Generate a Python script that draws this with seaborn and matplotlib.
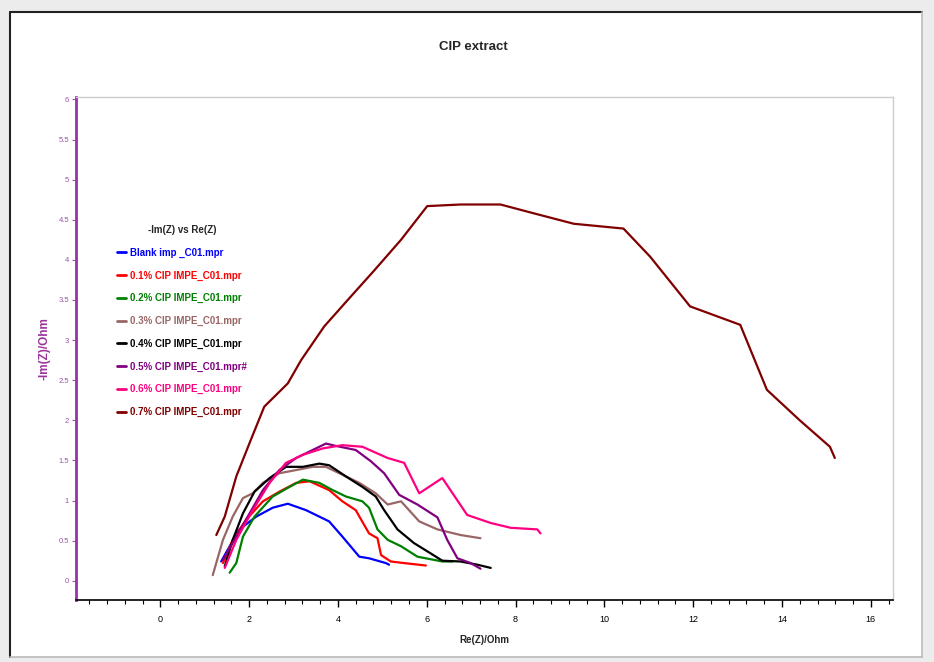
import numpy as np
import pandas as pd
import seaborn as sns
import matplotlib.pyplot as plt
from matplotlib.ticker import MultipleLocator
from matplotlib.lines import Line2D
from matplotlib.patches import Rectangle

# series (Re(Z), -Im(Z)) in Ohm
blank_x = [1.37, 1.48, 1.78, 2.16, 2.53, 2.87, 3.28, 3.80, 4.10, 4.48, 4.70, 5.08, 5.15]
blank_y = [0.24, 0.35, 0.64, 0.80, 0.91, 0.96, 0.88, 0.74, 0.55, 0.30, 0.28, 0.22, 0.20]

c01_x = [1.41, 1.63, 1.93, 2.31, 2.68, 3.06, 3.36, 3.80, 4.10, 4.40, 4.70, 4.89, 4.97, 5.19, 5.49, 5.98]
c01_y = [0.22, 0.51, 0.76, 0.99, 1.11, 1.22, 1.24, 1.13, 0.99, 0.88, 0.59, 0.53, 0.32, 0.24, 0.22, 0.19]

c02_x = [1.56, 1.71, 1.86, 2.12, 2.53, 2.91, 3.21, 3.58, 3.88, 4.18, 4.55, 4.70, 4.89, 5.12, 5.42, 5.79, 6.35, 6.58]
c02_y = [0.10, 0.22, 0.55, 0.80, 1.05, 1.17, 1.26, 1.22, 1.13, 1.05, 0.99, 0.91, 0.64, 0.51, 0.43, 0.30, 0.24, 0.24]

c03_x = [1.18, 1.41, 1.63, 1.86, 2.08, 2.31, 2.68, 3.06, 3.43, 3.73, 4.03, 4.48, 4.85, 5.12, 5.42, 5.83, 6.24, 6.76, 7.21]
c03_y = [0.07, 0.51, 0.80, 1.03, 1.09, 1.22, 1.34, 1.38, 1.42, 1.42, 1.34, 1.22, 1.09, 0.95, 0.99, 0.74, 0.64, 0.57, 0.53]

c04_x = [1.45, 1.63, 1.86, 2.12, 2.46, 2.83, 3.21, 3.58, 3.80, 4.18, 4.55, 4.85, 5.04, 5.34, 5.71, 6.09, 6.35, 6.76, 7.14, 7.44]
c04_y = [0.18, 0.51, 0.84, 1.11, 1.28, 1.42, 1.42, 1.46, 1.44, 1.30, 1.17, 1.05, 0.88, 0.64, 0.47, 0.34, 0.25, 0.24, 0.20, 0.16]

c05_x = [1.41, 1.71, 2.01, 2.31, 2.68, 3.06, 3.43, 3.73, 3.96, 4.40, 4.74, 5.04, 5.38, 5.79, 6.24, 6.46, 6.69, 6.99, 7.21]
c05_y = [0.26, 0.55, 0.84, 1.13, 1.38, 1.53, 1.63, 1.71, 1.68, 1.63, 1.49, 1.34, 1.07, 0.95, 0.79, 0.51, 0.28, 0.22, 0.15]

c06_x = [1.45, 1.71, 2.08, 2.46, 2.83, 3.21, 3.66, 4.10, 4.55, 5.12, 5.49, 5.83, 6.35, 6.91, 7.44, 7.89, 8.49, 8.56]
c06_y = [0.16, 0.51, 0.88, 1.22, 1.47, 1.57, 1.65, 1.69, 1.67, 1.53, 1.47, 1.09, 1.28, 0.82, 0.72, 0.66, 0.64, 0.59]

c07_x = [1.26, 1.45, 1.71, 2.04, 2.34, 2.87, 3.17, 3.69, 4.22, 4.82, 5.42, 6.01, 6.76, 7.66,
         8.41, 9.31, 10.43, 11.03, 11.93, 13.06, 13.66, 14.40, 15.08, 15.19]
c07_y = [0.57, 0.80, 1.30, 1.76, 2.17, 2.46, 2.75, 3.17, 3.50, 3.87, 4.25, 4.67, 4.69, 4.69,
         4.58, 4.45, 4.39, 4.04, 3.42, 3.19, 2.38, 2.00, 1.67, 1.53]

labels = ["Blank imp _C01.mpr", "0.1% CIP IMPE_C01.mpr", "0.2% CIP IMPE_C01.mpr",
          "0.3% CIP IMPE_C01.mpr", "0.4% CIP IMPE_C01.mpr", "0.5% CIP IMPE_C01.mpr#",
          "0.6% CIP IMPE_C01.mpr", "0.7% CIP IMPE_C01.mpr"]
colors = ["#0000ff", "#ff0000", "#008000", "#996666", "#000000", "#800080", "#ff0080", "#800000"]

xs = [blank_x, c01_x, c02_x, c03_x, c04_x, c05_x, c06_x, c07_x]
ys = [blank_y, c01_y, c02_y, c03_y, c04_y, c05_y, c06_y, c07_y]

frames = []
for lab, x, y in zip(labels, xs, ys):
    frames.append(pd.DataFrame({"re": x, "im": y, "file": lab}))
df = pd.concat(frames, ignore_index=True)

sns.set_style("white")
plt.rcParams['font.family'] = ['Liberation Sans Narrow', 'Liberation Sans', 'DejaVu Sans']

fig = plt.figure(figsize=(9.34, 6.62), dpi=100)
fig.patch.set_facecolor("#ececec")

# window frame around the plot
fig.patches.append(Rectangle((10 / 934, 1 - 657 / 662), 912 / 934, 645 / 662,
                             transform=fig.transFigure, facecolor="white", edgecolor="none", zorder=-5))
fig.lines.append(Line2D([10 / 934, 10 / 934], [1 - 657 / 662, 1 - 12 / 662], transform=fig.transFigure,
                        color="#222222", lw=1.5, zorder=-4))
fig.lines.append(Line2D([10 / 934, 922 / 934], [1 - 12 / 662, 1 - 12 / 662], transform=fig.transFigure,
                        color="#222222", lw=1.5, zorder=-4))
fig.lines.append(Line2D([922 / 934, 922 / 934], [1 - 657 / 662, 1 - 12 / 662], transform=fig.transFigure,
                        color="#bbbbbb", lw=1.2, zorder=-4))
fig.lines.append(Line2D([10 / 934, 922 / 934], [1 - 657 / 662, 1 - 657 / 662], transform=fig.transFigure,
                        color="#bbbbbb", lw=1.2, zorder=-4))

ax = fig.add_axes([76 / 934, 1 - 600 / 662, 817 / 934, 503 / 662])
sns.lineplot(data=df, x="re", y="im", hue="file", palette=dict(zip(labels, colors)),
             sort=False, estimator=None, lw=1.6, ax=ax)

ax.set_xlim(-1.9, 16.5)
ax.set_ylim(-0.24, 6.03)
ax.xaxis.set_major_locator(MultipleLocator(2))
ax.xaxis.set_minor_locator(MultipleLocator(0.4))
ax.set_yticks(np.arange(0, 6.01, 0.5))
ax.set_yticklabels([f"{v:g}" for v in np.arange(0, 6.01, 0.5)])

ax.tick_params(axis="x", which="major", direction="out", length=5, width=1, colors="black",
               labelsize=6.5, pad=6, bottom=True)
ax.tick_params(axis="x", which="minor", direction="out", length=3, width=0.8, colors="black", bottom=True)
ax.tick_params(axis="y", which="major", direction="out", length=3, width=0.8, colors="#9955aa",
               labelsize=5.5, pad=2, left=True)

for s in ["top", "right"]:
    ax.spines[s].set_color("#cccccc")
    ax.spines[s].set_linewidth(1)
ax.spines["bottom"].set_color("black")
ax.spines["bottom"].set_linewidth(1.2)
ax.spines["left"].set_color("#9933aa")
ax.spines["left"].set_linewidth(2)

ax.set_xlabel("Re(Z)/Ohm", fontsize=7, fontweight="bold", labelpad=8)
ax.set_ylabel("-Im(Z)/Ohm", fontsize=8.5, fontweight="bold", color="#993399", labelpad=6)
fig.text(473 / 934, 1 - 47 / 662, "CIP extract", ha="center", va="center", fontsize=9.5, fontweight="bold")

handles, labs = ax.get_legend_handles_labels()
leg = ax.legend(handles, labs, title="-Im(Z) vs Re(Z)", loc="upper left", bbox_to_anchor=(0.045, 0.753),
                frameon=False, fontsize=7, title_fontsize=7, handlelength=1.0, handletextpad=0.4,
                labelspacing=1.3, borderaxespad=0)
leg.get_title().set_fontweight("bold")
for txt, col in zip(leg.get_texts(), colors):
    txt.set_color(col)
    txt.set_fontweight("bold")
for h in leg.legend_handles:
    h.set_linewidth(2)

fig.savefig("out.png", dpi=100, facecolor=fig.get_facecolor())
